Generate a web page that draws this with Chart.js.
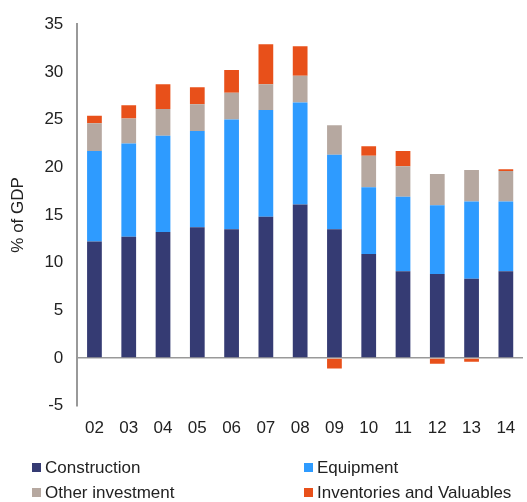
<!DOCTYPE html>
<html>
<head>
<meta charset="utf-8">
<script src="https://cdn.jsdelivr.net/npm/chart.js@4"></script>
<style>
    body { margin: 0; background: #fff; }
    #wrap { position: relative; width: 527px; height: 502px; }
    #legend { position: absolute; left: 32px; top: 458px; width: 495px;
        font-family: "Liberation Sans", Arial, sans-serif; font-size: 17px; color: #222; }
    .item { position: absolute; white-space: nowrap; line-height: 20px; }
    .box { display: inline-block; width: 9px; height: 9px; margin-right: 4px; vertical-align: 1px; }
</style>
</head>
<body>
<div id="wrap">
    <canvas id="barChartInvestitii" width="527" height="502"></canvas>
    <div id="legend"></div>
</div>
<script>
var years = ['02', '03', '04', '05', '06', '07', '08', '09', '10', '11', '12', '13', '14'];
var construction = [12.2, 12.7, 13.2, 13.7, 13.5, 14.8, 16.1, 13.5, 10.9, 9.1, 8.8, 8.3, 9.1];
var equipment = [9.5, 9.8, 10.1, 10.1, 11.5, 11.2, 10.7, 7.8, 7.0, 7.8, 7.2, 8.1, 7.3];
var otherInvestment = [2.9, 2.6, 2.8, 2.8, 2.8, 2.7, 2.8, 3.1, 3.3, 3.2, 3.3, 3.3, 3.2];
var inventories = [0.8, 1.4, 2.6, 1.8, 2.4, 4.2, 3.1, -1.1, 1.0, 1.6, -0.6, -0.4, 0.2];

var fontFamily = '"Liberation Sans", Arial, sans-serif';

var ctx = document.getElementById('barChartInvestitii').getContext('2d');
var barChartInvestitii = new Chart(ctx, {
    type: 'bar',
    data: {
        labels: years,
        datasets: [{
            label: 'Construction',
            data: construction,
            backgroundColor: '#353B73'
        }, {
            label: 'Equipment',
            data: equipment,
            backgroundColor: '#2E9BFF'
        }, {
            label: 'Other investment',
            data: otherInvestment,
            backgroundColor: '#B6A8A0'
        }, {
            label: 'Inventories and Valuables',
            data: inventories,
            backgroundColor: '#E8501A'
        }]
    },
    options: {
        responsive: false,
        animation: false,
        barPercentage: 0.43,
        categoryPercentage: 1,
        layout: {
            padding: { top: 12, right: 4, bottom: 58, left: 6 }
        },
        scales: {
            x: {
                stacked: true,
                grid: { display: false },
                border: { display: false },
                ticks: {
                    color: '#222',
                    padding: 5,
                    font: { family: fontFamily, size: 17 }
                }
            },
            y: {
                stacked: true,
                min: -5,
                max: 35,
                grid: {
                    drawTicks: false,
                    color: function (c) {
                        return c.tick && c.tick.value === 0 ? '#999' : 'rgba(0,0,0,0)';
                    },
                    lineWidth: 1.5
                },
                border: { display: true, color: '#999', width: 2 },
                ticks: {
                    stepSize: 5,
                    color: '#222',
                    padding: 14,
                    font: { family: fontFamily, size: 17 }
                },
                title: {
                    display: true,
                    text: '% of GDP',
                    color: '#222',
                    padding: 2,
                    font: { family: fontFamily, size: 17 }
                }
            }
        },
        plugins: {
            legend: { display: false },
            tooltip: { enabled: false }
        }
    }
});

// legend in two columns, like the original
var legend = document.getElementById('legend');
var colPos = [[0, 0], [272, 0], [0, 25], [272, 25]];
barChartInvestitii.data.datasets.forEach(function (ds, i) {
    var item = document.createElement('div');
    item.className = 'item';
    item.style.left = colPos[i][0] + 'px';
    item.style.top = colPos[i][1] + 'px';
    item.innerHTML = '<span class="box" style="background:' + ds.backgroundColor + '"></span>' + ds.label;
    legend.appendChild(item);
});
</script>
</body>
</html>
